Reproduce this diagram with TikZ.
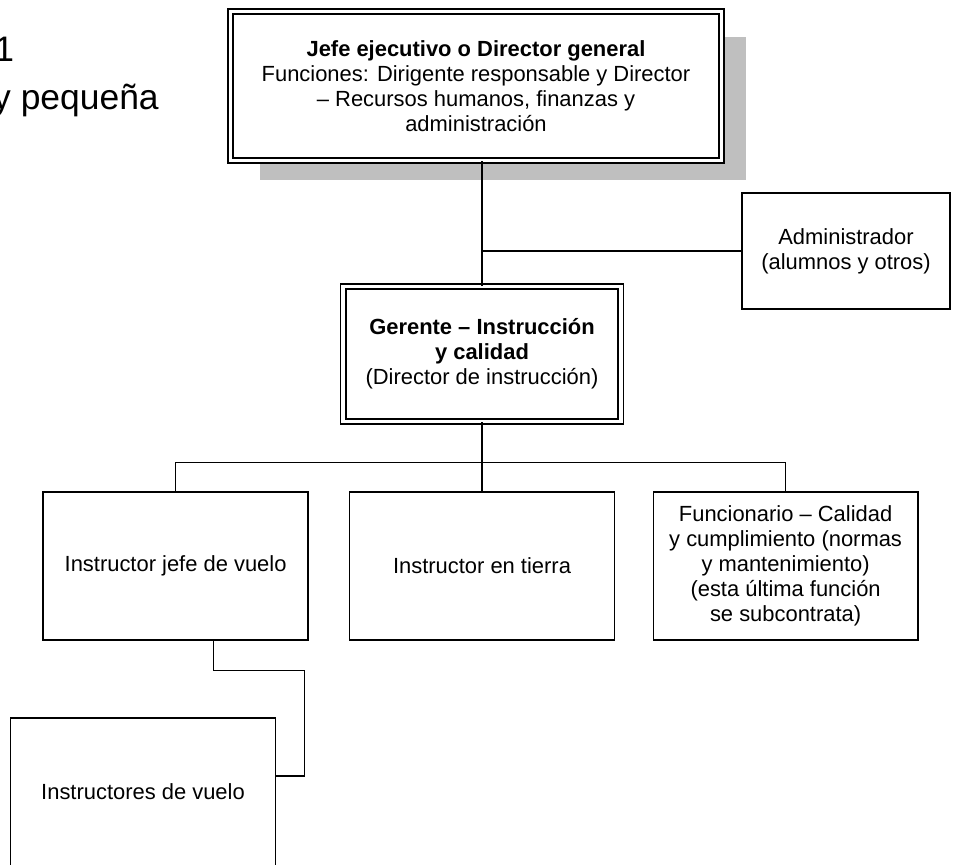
\documentclass[tikz,border=0pt]{standalone}
\usepackage{fontspec}
\setmainfont{Liberation Sans}
\usetikzlibrary{calc}
\newcommand{\boxfont}{\fontsize{15.6}{17.8}\selectfont}
\newcommand{\titlefont}{\fontsize{25.2}{28}\selectfont}

\begin{document}
\begin{tikzpicture}[
  box/.style={draw, line width=1pt, minimum width=6.62cm, minimum height=3.7cm, align=center, inner sep=2pt, font=\boxfont},
  headbox/.style={box, double, double distance=2.8pt, line width=1.1pt},
  link/.style={line width=0.8pt}
]
\useasboundingbox (0,0) rectangle (24.3,21.625);

% titulo, cortado a la izquierda
\node[anchor=base east, inner sep=0, font=\titlefont] (num) at (0.36,20.075) {1};
\node[anchor=base east, inner sep=0, font=\titlefont] (titulo) at (3.975,18.875) {y pequeña};

% sombra
\fill[black!25] (6.5,17.125) rectangle (18.65,20.7);
\node[headbox, fill=white, minimum width=12.275cm, minimum height=3.725cm] (jefe) at (11.9,19.475)
  {\textbf{Jefe ejecutivo o Director general}\\Funciones: Dirigente responsable y Director\\– Recursos humanos, finanzas y\\administración};
\node[box, minimum width=5.2cm, minimum height=2.9cm] (admin) at (21.15,15.35) {Administrador\\(alumnos y otros)};
\node[headbox, minimum width=6.94cm, minimum height=3.375cm] (gerente) at (12.05,12.775)
  {\textbf{Gerente – Instrucción}\\\textbf{y calidad}\\(Director de instrucción)};

\node[box] (left) at (4.39,7.475) {Instructor jefe de vuelo};
\node[box] (middle) at (12.05,7.475) {Instructor en tierra};
\node[box] (right) at (19.64,7.475) {Funcionario – Calidad\\y cumplimiento (normas\\y mantenimiento)\\(esta última función\\se subcontrata)};
\node[box] (bottom) at (3.575,1.825) {Instructores de vuelo};

\draw[link] (gerente.north) -- (gerente.north |- jefe.south);
\draw[link] (gerente.north |- admin.west) -- (admin.west);
\coordinate (bus) at ($(middle.north)+(0,0.725)$);
\draw[link] (gerente.south) -- (middle.north);
\draw[link] (left.north) |- (bus) -| (right.north);
\coordinate (lsalida) at ($(left.south)+(0.94,0)$);
\coordinate (bentrada) at ($(bottom.east)+(0,0.4)$);
\draw[link] (lsalida) -- ++(0,-0.75) -| ($(bentrada)+(0.7,0)$) -- (bentrada);
\end{tikzpicture}
\end{document}
